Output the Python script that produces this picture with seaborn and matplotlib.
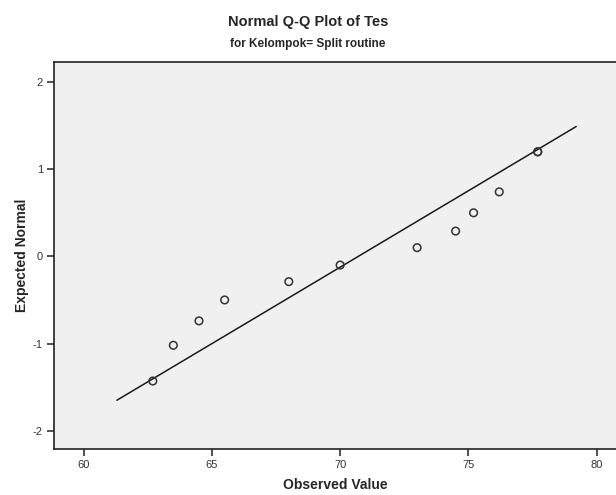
import numpy as np
import pandas as pd
import matplotlib
matplotlib.use("Agg")
import matplotlib.pyplot as plt
import seaborn as sns

observed = [62.7, 63.5, 64.5, 65.5, 68.0, 70.0, 73.0, 74.5, 75.2, 76.2, 77.7, 77.7]
expected = [-1.43, -1.02, -0.74, -0.50, -0.29, -0.10, 0.10, 0.29, 0.50, 0.74, 1.20, 1.20]
line_span = [61.3, 79.2]
x_ticks = [60, 65, 70, 75, 80]
y_ticks = [-2, -1, 0, 1, 2]

df = pd.DataFrame({"Observed Value": observed, "Expected Normal": expected})

sns.set_style("white")
plt.rcParams['font.family'] = ['Liberation Sans', 'DejaVu Sans']
plt.rcParams['axes.unicode_minus'] = False

fig = plt.figure(figsize=(6.16, 4.95), dpi=100)
ax = fig.add_axes([54 / 616, 46 / 495, 1 - 54 / 616, (449 - 62) / 495])
ax.set_facecolor("#f0f0f0")

# reference line from mean / sd of the observed data
mu = np.mean(observed)
sd = np.std(observed, ddof=1)
lx = np.array(line_span)
ax.plot(lx, (lx - mu) / sd, color="#1a1a1a", lw=1.1, zorder=2)

sns.scatterplot(data=df, x="Observed Value", y="Expected Normal", ax=ax,
                marker="o", s=30, facecolor="none", edgecolor="#333333",
                linewidth=1.1, zorder=3)

ax.set_xlim(58.85, 80.75)
ax.set_ylim(-2.21, 2.23)
ax.set_xticks(x_ticks)
ax.set_yticks(y_ticks)
ax.tick_params(axis="both", which="major", bottom=True, left=True,
               direction="out", length=5, width=1.2, color="#333333",
               labelsize=8, labelcolor="#333333", pad=3)

for side in ["left", "top", "bottom"]:
    ax.spines[side].set_color("#222222")
    ax.spines[side].set_linewidth(1.2)
ax.spines["right"].set_visible(False)

ax.set_xlabel("Observed Value", fontsize=10, fontweight="bold", labelpad=6)
ax.set_ylabel("Expected Normal", fontsize=10, fontweight="bold", labelpad=3)

fig.text(0.5, 1 - 22 / 495, "Normal Q-Q Plot of Tes", ha="center", va="center",
         fontsize=10.5, fontweight="bold")
fig.text(0.5, 1 - 44 / 495, "for Kelompok= Split routine", ha="center", va="center",
         fontsize=8.5, fontweight="bold",
         family=["Liberation Sans Narrow", "Liberation Sans", "DejaVu Sans"])

fig.savefig("out.png", dpi=100)
